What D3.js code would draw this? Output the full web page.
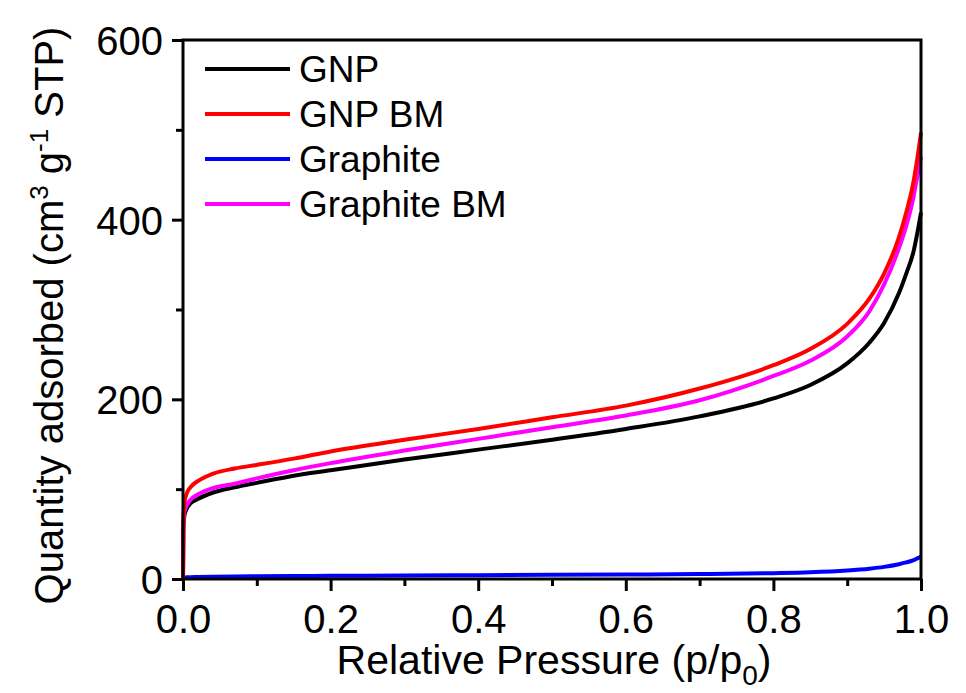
<!DOCTYPE html>
<html>
<head>
<meta charset="utf-8">
<script src="https://cdn.jsdelivr.net/npm/d3@7"></script>
<style>
  html, body { margin: 0; padding: 0; background: #fff; }
  svg { display: block; font-family: "Liberation Sans", Arial, sans-serif; }
</style>
</head>
<body>
<svg id="chart" width="966" height="693"></svg>
<script>
// N2 adsorption isotherms: relative pressure vs. quantity adsorbed
const pressure = [0, 0.0005, 0.002, 0.005, 0.01, 0.02, 0.04, 0.07, 0.1, 0.15, 0.2, 0.3, 0.4, 0.5, 0.6, 0.7, 0.8, 0.85, 0.9, 0.93, 0.95, 0.97, 0.98, 0.99, 0.995, 1.0];
const gnp        = [0, 55, 71, 78, 84, 89, 96, 102, 107, 115, 121, 133, 144, 155, 167, 181, 201, 216, 240, 263, 285, 318, 340, 365, 385, 408];
const gnpBM      = [0, 65, 85, 95, 102, 109, 117, 123, 127, 134, 142, 155, 167, 180, 193, 212, 238, 256, 284, 312, 340, 380, 408, 443, 468, 497];
const graphite   = [0, 1, 1.5, 2, 2, 2.2, 2.5, 2.8, 3, 3.3, 3.5, 4, 4.3, 4.6, 5, 5.5, 6.5, 7.5, 9.5, 11.5, 13.5, 16.5, 18.5, 21, 23, 25];
const graphiteBM = [0, 60, 75, 82, 88, 94, 101, 106, 112, 121, 129, 143, 156, 169, 182, 199, 226, 243, 270, 298, 328, 368, 393, 426, 448, 470];

const seriesNames  = ["GNP", "GNP BM", "Graphite", "Graphite BM"];
const seriesValues = [gnp, gnpBM, graphite, graphiteBM];
const seriesColors = ["#000000", "#ff0000", "#0000ff", "#ff00ff"];
// draw order: blue first, then black, magenta, red on top
const drawOrder = [2, 0, 3, 1];

const xMajor = [0, 0.2, 0.4, 0.6, 0.8, 1.0];
const xMinor = [0.1, 0.3, 0.5, 0.7, 0.9];
const yMajor = [0, 200, 400, 600];
const yMinor = [100, 300, 500];

const svg = d3.select("#chart");
const plotL = 183, plotR = 921, plotT = 40, plotB = 579;
const FONT = "Liberation Sans, Arial, sans-serif";

const x = d3.scaleLinear().domain([0, 1]).range([plotL, plotR]);
const y = d3.scaleLinear().domain([0, 600]).range([plotB, plotT]);

// curves
const line = d3.line()
  .x(d => x(d[0]))
  .y(d => y(d[1]))
  .curve(d3.curveMonotoneX);

drawOrder.forEach(i => {
  const pts = pressure.map((p, k) => [p, seriesValues[i][k]]);
  svg.append("path")
    .attr("d", line(pts))
    .attr("fill", "none")
    .attr("stroke", seriesColors[i])
    .attr("stroke-width", 4)
    .attr("stroke-linejoin", "round");
});

// frame
svg.append("rect")
  .attr("x", plotL).attr("y", plotT)
  .attr("width", plotR - plotL).attr("height", plotB - plotT)
  .attr("fill", "none").attr("stroke", "#000").attr("stroke-width", 3);

// bottom axis
const xAxis = svg.append("g").attr("transform", `translate(0,${plotB})`);
xAxis.call(d3.axisBottom(x).tickValues(xMajor).tickSize(12).tickFormat(d3.format(".1f")));
xAxis.append("g").call(d3.axisBottom(x).tickValues(xMinor).tickSize(7).tickFormat(""));
xAxis.selectAll(".domain").remove();
xAxis.selectAll("line").attr("stroke", "#000").attr("stroke-width", 3);
xAxis.selectAll("text")
  .attr("fill", "#000").attr("font-size", 40).attr("dy", null).attr("y", 54)
  .attr("font-family", FONT);

// left axis
const yAxis = svg.append("g").attr("transform", `translate(${plotL},0)`);
yAxis.call(d3.axisLeft(y).tickValues(yMajor).tickSize(11).tickFormat(d3.format("d")));
yAxis.append("g").call(d3.axisLeft(y).tickValues(yMinor).tickSize(7).tickFormat(""));
yAxis.selectAll(".domain").remove();
yAxis.selectAll("line").attr("stroke", "#000").attr("stroke-width", 3);
yAxis.selectAll("text")
  .attr("fill", "#000").attr("font-size", 40).attr("x", -20).attr("dy", "0.36em")
  .attr("font-family", FONT);

// axis titles
const xt = svg.append("text")
  .attr("x", (plotL + plotR) / 2 + 2).attr("y", 674)
  .attr("text-anchor", "middle").attr("font-size", 41).attr("fill", "#000");
xt.append("tspan").text("Relative Pressure (p/p");
xt.append("tspan").attr("font-size", 28).attr("dy", 11).text("0");
xt.append("tspan").attr("dy", -11).text(")");

const yt = svg.append("text")
  .attr("transform", `translate(63,${(plotT + plotB) / 2 + 6}) rotate(-90)`)
  .attr("text-anchor", "middle").attr("font-size", 40).attr("fill", "#000");
yt.append("tspan").text("Quantity adsorbed (cm");
yt.append("tspan").attr("font-size", 26).attr("dy", -15).text("3");
yt.append("tspan").attr("dy", 15).text(" g");
yt.append("tspan").attr("font-size", 26).attr("dy", -15).text("-1");
yt.append("tspan").attr("dy", 15).text(" STP)");

// legend
const legendY = [69, 114, 159, 204];
const legend = svg.append("g");
seriesNames.forEach((name, i) => {
  legend.append("line")
    .attr("x1", 205).attr("x2", 290)
    .attr("y1", legendY[i]).attr("y2", legendY[i])
    .attr("stroke", seriesColors[i]).attr("stroke-width", 4);
  legend.append("text")
    .attr("x", 299).attr("y", legendY[i]).attr("dy", "0.36em")
    .attr("font-size", 37).attr("fill", "#000").text(name);
});
</script>
</body>
</html>
